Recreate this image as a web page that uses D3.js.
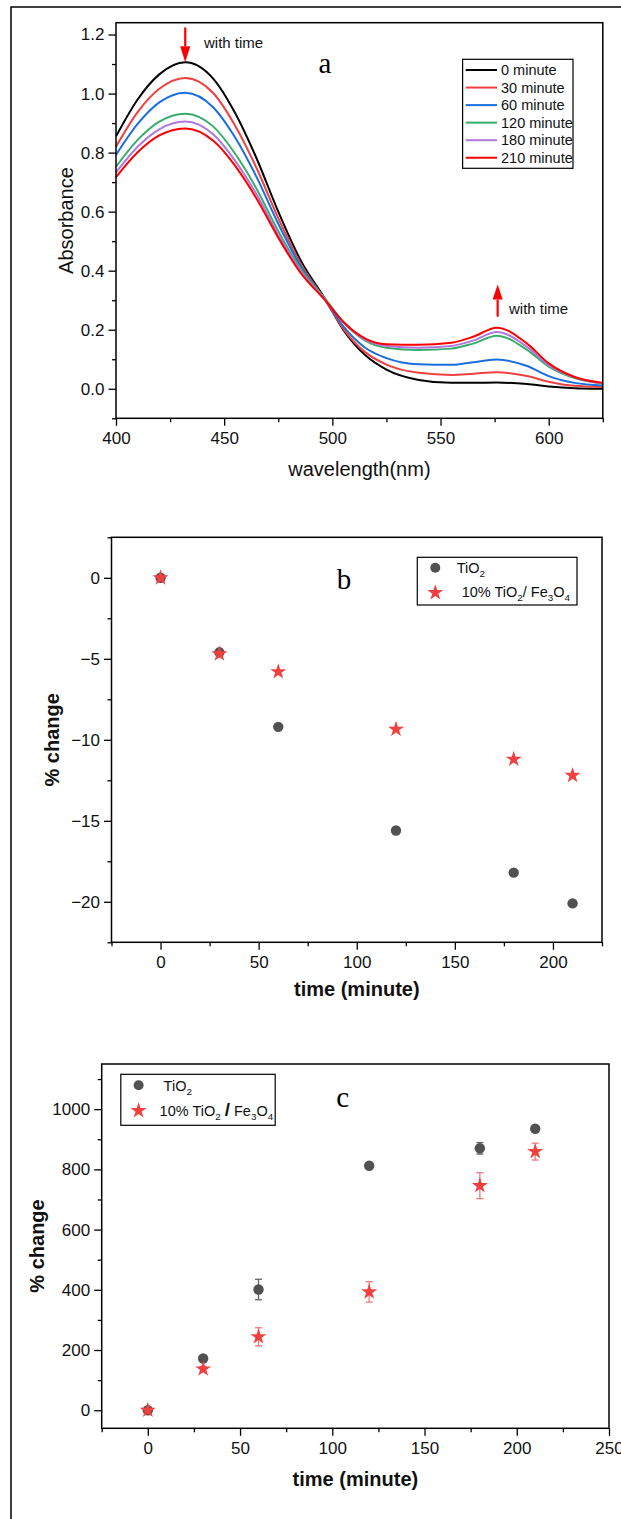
<!DOCTYPE html>
<html lang="en">
<head>
<meta charset="UTF-8">
<title>Absorbance and % change with time</title>
<script src="https://d3js.org/d3.v7.min.js"></script>
<style>
    body { margin: 0; background: #fff; }
    svg { display: block; font-family: "Liberation Sans", Arial, sans-serif; }
    .tick text { font-family: "Liberation Sans", Arial, sans-serif; font-size: 17px; fill: #111; }
    .axis-title { font-size: 20px; fill: #111; }
    .panel-tag { font-family: "Liberation Serif", "Times New Roman", serif; font-size: 29px; }
    .note { font-size: 15px; fill: #111; }
</style>
</head>
<body>
<svg id="chart" width="621" height="1519"></svg>
<script>
// ---- panel a: UV-vis spectra ----
const wavelengths = [400, 410, 420, 432, 445, 455, 465, 475, 485, 497, 505, 515, 525, 540, 555, 565, 576, 590, 600, 612, 625];
const abs0   = [0.855, 0.980, 1.065, 1.106, 1.050, 0.935, 0.780, 0.600, 0.440, 0.300, 0.200, 0.115, 0.065, 0.030, 0.020, 0.020, 0.021, 0.016, 0.008, 0.002, 0.000];
const abs30  = [0.820, 0.937, 1.016, 1.053, 1.001, 0.892, 0.747, 0.578, 0.428, 0.297, 0.204, 0.125, 0.082, 0.054, 0.047, 0.051, 0.056, 0.043, 0.024, 0.010, 0.006];
const abs60  = [0.792, 0.897, 0.970, 1.003, 0.953, 0.852, 0.717, 0.559, 0.419, 0.298, 0.212, 0.140, 0.104, 0.083, 0.081, 0.090, 0.099, 0.077, 0.043, 0.020, 0.011];
const abs120 = [0.752, 0.843, 0.905, 0.932, 0.888, 0.797, 0.677, 0.534, 0.410, 0.302, 0.227, 0.164, 0.139, 0.131, 0.136, 0.153, 0.180, 0.132, 0.075, 0.036, 0.017];
const abs180 = [0.733, 0.820, 0.879, 0.905, 0.861, 0.773, 0.658, 0.522, 0.402, 0.298, 0.226, 0.167, 0.145, 0.139, 0.145, 0.163, 0.192, 0.142, 0.080, 0.039, 0.018];
const abs210 = [0.717, 0.801, 0.858, 0.882, 0.840, 0.756, 0.644, 0.512, 0.396, 0.297, 0.227, 0.171, 0.151, 0.149, 0.156, 0.176, 0.207, 0.153, 0.086, 0.040, 0.020];
const spectraNames = ["0 minute", "30 minute", "60 minute", "120 minute", "180 minute", "210 minute"];

// ---- panels b and c ----
const times = [0, 30, 60, 120, 180, 210];
const tio2Drop = [0, -4.6, -9.2, -15.6, -18.2, -20.1];
const compDrop = [0, -4.7, -5.8, -9.35, -11.2, -12.2];
const tio2Rise = [0, 172, 401, 812, 870, 935];
const tio2RiseErr = [4, 6, 34, 9, 19, 8];
const compRise = [0, 137, 244, 393, 746, 859];
const compRiseErr = [6, 8, 30, 34, 43, 28];

// tick labels
const aXTicks = [400, 450, 500, 550, 600], aXMinor = [425, 475, 525, 575, 625];
const aYTicks = [0, 0.2, 0.4, 0.6, 0.8, 1.0, 1.2], aYMinor = [-0.1, 0.1, 0.3, 0.5, 0.7, 0.9, 1.1];
const bXTicks = [0, 50, 100, 150, 200], bXMinor = [-25, 25, 75, 125, 175, 225];
const bYTicks = [0, -5, -10, -15, -20], bYMinor = [2.5, -2.5, -7.5, -12.5, -17.5, -22.5];
const cXTicks = [0, 50, 100, 150, 200, 250], cXMinor = [-25, 25, 75, 125, 175, 225];
const cYTicks = [0, 200, 400, 600, 800, 1000], cYMinor = [100, 300, 500, 700, 900, 1100];

const lineColors = ["#000000", "#F14040", "#1A6FDF", "#37AD6B", "#B177DE", "#FF0000"];
const grey = "#515151", starRed = "#F14040";

const svg = d3.select("#chart");

// outer figure border (runs off the right and bottom)
svg.append("rect").attr("x", 11).attr("y", 7).attr("width", 700).attr("height", 1600)
    .attr("fill", "none").attr("stroke", "#000").attr("stroke-width", 1.5);

function drawAxes(x, y, xMajor, xMinor, yMajor, yMinor, yFormat) {
    const [left, right] = x.range();
    const [bottom, top] = y.range();
    const tidy = g => {
        g.select(".domain").remove();
        g.selectAll(".tick line").attr("stroke-width", 1.3);
    };
    svg.append("g").attr("transform", `translate(0,${bottom})`)
        .call(d3.axisBottom(x).tickValues(xMajor).tickSize(7.5).tickPadding(6).tickFormat(d3.format("d")))
        .call(tidy);
    svg.append("g").attr("transform", `translate(0,${bottom})`)
        .call(d3.axisBottom(x).tickValues(xMinor).tickSize(4).tickFormat(""))
        .call(tidy);
    svg.append("g").attr("transform", `translate(${left},0)`)
        .call(d3.axisLeft(y).tickValues(yMajor).tickSize(7.5).tickPadding(4).tickFormat(yFormat))
        .call(tidy);
    svg.append("g").attr("transform", `translate(${left},0)`)
        .call(d3.axisLeft(y).tickValues(yMinor).tickSize(4).tickFormat(""))
        .call(tidy);
    svg.append("rect").attr("x", left).attr("y", top)
        .attr("width", right - left).attr("height", bottom - top)
        .attr("fill", "none").attr("stroke", "#000").attr("stroke-width", 1.5);
}

// text with subscripts; parts = [[string, "n" | "sub" | "bold"], ...]
function richText(x, y, parts, size) {
    const t = svg.append("text").attr("x", x).attr("y", y).attr("font-size", size).attr("fill", "#111");
    let shift = 0;
    parts.forEach(([s, kind]) => {
        const target = kind === "sub" ? 4 : 0;
        const sp = t.append("tspan").attr("dy", target - shift).text(s);
        shift = target;
        if (kind === "sub") sp.attr("font-size", size * 0.68);
        if (kind === "bold") sp.attr("font-weight", "bold").attr("font-size", size * 1.3);
    });
    return t;
}

function arrow(x, yTail, yTip, headLen) {
    const dir = yTip > yTail ? 1 : -1;
    svg.append("line").attr("x1", x).attr("x2", x).attr("y1", yTail).attr("y2", yTip - dir * headLen)
        .attr("stroke", "#FF0000").attr("stroke-width", 2.2);
    svg.append("path")
        .attr("d", `M${x - 5},${yTip - dir * headLen}L${x + 5},${yTip - dir * headLen}L${x},${yTip}Z`)
        .attr("fill", "#FF0000");
}

const star = d3.symbol().type(d3.symbolStar).size(80);

// ================= panel a =================
const xA = d3.scaleLinear().domain([400, 625]).range([116, 602.8]);
const yA = d3.scaleLinear().domain([-0.1, 1.24]).range([418.3, 22.7]);

const spectra = [abs0, abs30, abs60, abs120, abs180, abs210];
const line = d3.line()
    .x((d, i) => xA(wavelengths[i]))
    .y(d => yA(d))
    .curve(d3.curveMonotoneX);

svg.append("g").selectAll("path")
    .data(spectra)
    .join("path")
    .attr("d", line)
    .attr("fill", "none")
    .attr("stroke", (d, i) => lineColors[i])
    .attr("stroke-width", 2);

drawAxes(xA, yA, aXTicks, aXMinor, aYTicks, aYMinor, d3.format(".1f"));

svg.append("text").attr("class", "axis-title").attr("x", 359.4).attr("y", 476)
    .attr("text-anchor", "middle").text("wavelength(nm)");
svg.append("text").attr("class", "axis-title").attr("text-anchor", "middle")
    .attr("transform", "translate(73,220.5) rotate(-90)").text("Absorbance");
svg.append("text").attr("class", "panel-tag").attr("x", 325).attr("y", 72.7)
    .attr("text-anchor", "middle").text("a");

arrow(xA(432), yA(1.224), yA(1.106), 16);
svg.append("text").attr("class", "note").attr("x", 204).attr("y", 47.7).text("with time");
arrow(xA(576.4), yA(0.244), yA(0.353), 15);
svg.append("text").attr("class", "note").attr("x", 509).attr("y", 313.5).text("with time");

// legend a
const legA = svg.append("g");
legA.append("rect").attr("x", 462.6).attr("y", 59.3).attr("width", 110.4).attr("height", 109)
    .attr("fill", "#fff").attr("stroke", "#000").attr("stroke-width", 1.2);
spectraNames.forEach((name, i) => {
    const cy = 70 + i * 17.55;
    legA.append("line").attr("x1", 465.7).attr("x2", 497).attr("y1", cy).attr("y2", cy)
        .attr("stroke", lineColors[i]).attr("stroke-width", 2);
    legA.append("text").attr("x", 501).attr("y", cy + 5).attr("font-size", 14.5)
        .attr("fill", "#111").text(name);
});

// ================= panel b =================
const xB = d3.scaleLinear().domain([-25, 225]).range([111.5, 602]);
const yB = d3.scaleLinear().domain([-22.5, 2.5]).range([942.3, 537.3]);

drawAxes(xB, yB, bXTicks, bXMinor, bYTicks, bYMinor, d3.format("d"));

svg.append("g").selectAll("circle")
    .data(tio2Drop)
    .join("circle")
    .attr("cx", (d, i) => xB(times[i]))
    .attr("cy", d => yB(d))
    .attr("r", 5.2)
    .attr("fill", grey);
svg.append("g").selectAll("path")
    .data(compDrop)
    .join("path")
    .attr("d", star)
    .attr("transform", (d, i) => `translate(${xB(times[i])},${yB(d)})`)
    .attr("fill", starRed);

svg.append("text").attr("class", "axis-title").attr("font-weight", "bold")
    .attr("x", 356.8).attr("y", 996).attr("text-anchor", "middle").text("time (minute)");
svg.append("text").attr("class", "axis-title").attr("font-weight", "bold").attr("text-anchor", "middle")
    .attr("transform", "translate(59,739.8) rotate(-90)").text("% change");
svg.append("text").attr("class", "panel-tag").attr("x", 344).attr("y", 589)
    .attr("text-anchor", "middle").text("b");

svg.append("rect").attr("x", 417.3).attr("y", 557.3).attr("width", 159.7).attr("height", 47.7)
    .attr("fill", "#fff").attr("stroke", "#000").attr("stroke-width", 1.2);
svg.append("circle").attr("cx", 435.3).attr("cy", 567.7).attr("r", 5).attr("fill", grey);
svg.append("path").attr("d", star).attr("transform", "translate(435.3,592.7)").attr("fill", starRed);
richText(456.7, 573.3, [["TiO", "n"], ["2", "sub"]], 14.5);
richText(461.7, 597, [["10% TiO", "n"], ["2", "sub"], ["/ Fe", "n"], ["3", "sub"], ["O", "n"], ["4", "sub"]], 14.5);

// ================= panel c =================
const xC = d3.scaleLinear().domain([-25, 250]).range([101.7, 609]);
const yC = d3.scaleLinear().domain([-60, 1150]).range([1428.3, 1064]);

drawAxes(xC, yC, cXTicks, cXMinor, cYTicks, cYMinor, d3.format("d"));

function errorBars(vals, errs, color, opacity) {
    const g = svg.append("g").attr("stroke", color).attr("stroke-width", 1.3).attr("opacity", opacity);
    vals.forEach((v, i) => {
        const cx = xC(times[i]);
        g.append("line").attr("x1", cx).attr("x2", cx).attr("y1", yC(v - errs[i])).attr("y2", yC(v + errs[i]));
        [v - errs[i], v + errs[i]].forEach(e => {
            g.append("line").attr("x1", cx - 3.5).attr("x2", cx + 3.5).attr("y1", yC(e)).attr("y2", yC(e));
        });
    });
}
errorBars(tio2Rise, tio2RiseErr, grey, 0.9);
errorBars(compRise, compRiseErr, starRed, 0.7);

svg.append("g").selectAll("circle")
    .data(tio2Rise)
    .join("circle")
    .attr("cx", (d, i) => xC(times[i]))
    .attr("cy", d => yC(d))
    .attr("r", 5.2)
    .attr("fill", grey);
svg.append("g").selectAll("path")
    .data(compRise)
    .join("path")
    .attr("d", star)
    .attr("transform", (d, i) => `translate(${xC(times[i])},${yC(d)})`)
    .attr("fill", starRed);

svg.append("text").attr("class", "axis-title").attr("font-weight", "bold")
    .attr("x", 355.4).attr("y", 1486).attr("text-anchor", "middle").text("time (minute)");
svg.append("text").attr("class", "axis-title").attr("font-weight", "bold").attr("text-anchor", "middle")
    .attr("transform", "translate(44,1246) rotate(-90)").text("% change");
svg.append("text").attr("class", "panel-tag").attr("x", 342.6).attr("y", 1106.7)
    .attr("text-anchor", "middle").text("c");

svg.append("rect").attr("x", 120.8).attr("y", 1074.3).attr("width", 154.4).attr("height", 51)
    .attr("fill", "#fff").attr("stroke", "#000").attr("stroke-width", 1.2);
svg.append("circle").attr("cx", 138.6).attr("cy", 1085.3).attr("r", 5).attr("fill", grey);
svg.append("path").attr("d", star).attr("transform", "translate(138.6,1110.7)").attr("fill", starRed);
richText(163.6, 1090.5, [["TiO", "n"], ["2", "sub"]], 14.5);
richText(159.6, 1116, [["10% TiO", "n"], ["2", "sub"], [" ", "n"], ["/", "bold"], [" Fe", "n"], ["3", "sub"], ["O", "n"], ["4", "sub"]], 14.5);
</script>
</body>
</html>
